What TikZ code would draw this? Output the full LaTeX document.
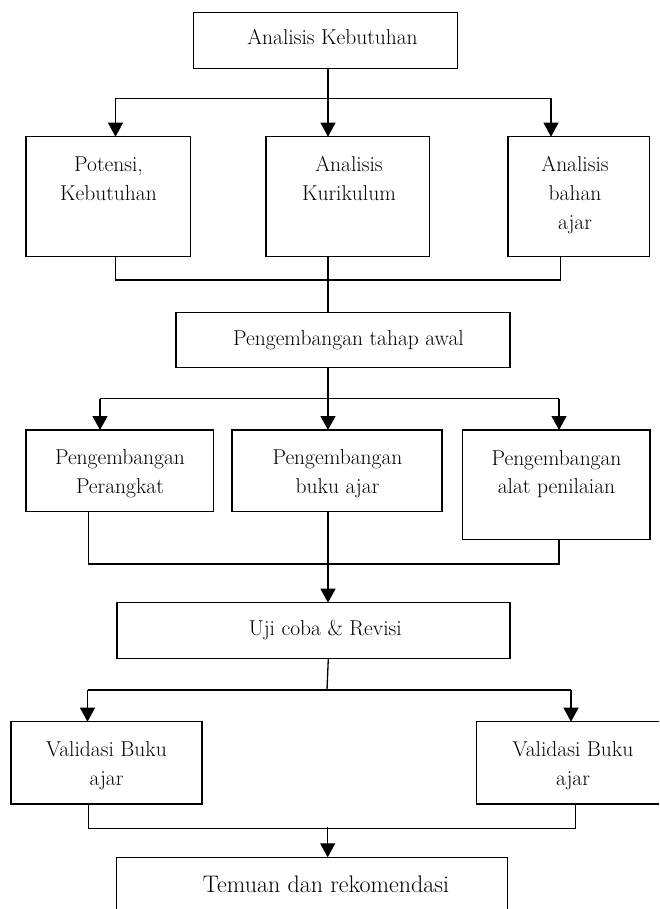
\documentclass[tikz,border=0pt]{standalone}
\usepackage{fontspec}
\usetikzlibrary{arrows.meta}
\newcommand{\mystack}[1]{\vtop{\halign{\hfil##\hfil\cr#1\crcr}}}
\tikzset{
  box/.style={draw, line width=1.3pt, inner sep=0pt, outer sep=0pt},
  conn/.style={line width=1.3pt},
  arr/.style={line width=1.3pt, -{Triangle[length=14pt,width=15pt]}},
  lbl/.style={anchor=base, inner sep=0pt, font=\fontsize{21.5}{28.7}\selectfont},
  biglbl/.style={anchor=base, inner sep=0pt, font=\fontsize{24}{30}\selectfont},
}
\begin{document}
\begin{tikzpicture}[x=1pt, y=-1pt]
\clip (0,0) rectangle (659,909);
\fill[white] (0,0) rectangle (659,909);

% boxes
\node[box, minimum width=264pt, minimum height=56pt] (T0) at (325.5,40.5) {};
\node[box, minimum width=164.7pt, minimum height=120pt] (b1) at (108.35,196.7) {};
\node[box, minimum width=163.5pt, minimum height=120pt] (b2) at (347.75,196.7) {};
\node[box, minimum width=141.5pt, minimum height=120pt] (b3) at (578.75,196.7) {};
\node[box, minimum width=334pt, minimum height=55.4pt] (P0) at (343,340) {};
\node[box, minimum width=187.5pt, minimum height=81.7pt] (A) at (119.75,470.85) {};
\node[box, minimum width=210pt, minimum height=81.7pt] (B) at (337,470.85) {};
\node[box, minimum width=187.5pt, minimum height=109.5pt] (C) at (556.25,484.75) {};
\node[box, minimum width=393pt, minimum height=55.8pt] (U) at (313.5,630.6) {};
\node[box, minimum width=191pt, minimum height=82.3pt] (VL) at (106.5,762.85) {};
\node[box, minimum width=193.7pt, minimum height=82.3pt] (VR) at (573.15,762.85) {};
\node[box, minimum width=390.6pt, minimum height=65.4pt] (TM) at (312,890) {};

% texts
\node[lbl] (t0) at (332.5,45) {Analisis Kebutuhan};
\node[lbl] (t1) at (108.5,171.7) {\mystack{Potensi,\cr Kebutuhan}};
\node[lbl] (t2) at (349,171.7) {\mystack{Analisis\cr Kurikulum}};
\node[lbl] (t3) at (575,171.7) {\mystack{Analisis\cr bahan\cr ajar}};
\node[lbl] (tP) at (348.5,345.5) {Pengembangan tahap awal};
\node[lbl] (tA) at (120,464.3) {\mystack{Pengembangan\cr Perangkat}};
\node[lbl] (tB) at (337.5,464.3) {\mystack{Pengembangan\cr buku ajar}};
\node[lbl] (tC) at (556.5,465) {\mystack{Pengembangan\cr alat penilaian}};
\node[lbl] (tU) at (325.3,635.7) {Uji coba \& Revisi};
\node[lbl] (tVL) at (106.5,756.5) {\mystack{Validasi Buku\cr ajar}};
\node[lbl] (tVR) at (573,756.5) {\mystack{Validasi Buku\cr ajar}};
\node[biglbl] (tTM) at (326,892.7) {Temuan dan rekomendasi};

% junction coordinates
\coordinate (j1) at (328,98.5);
\coordinate (j1l) at (115.5,98.5);
\coordinate (j1r) at (551,98.5);
\coordinate (k1l) at (115.5,280);
\coordinate (k1r) at (560.5,280);
\coordinate (j2) at (328,398.5);
\coordinate (j2l) at (100,398.5);
\coordinate (j2r) at (559,398.5);
\coordinate (k2l) at (88.3,564);
\coordinate (k2r) at (559,564);
\coordinate (j3) at (327,690);
\coordinate (j3l) at (87.5,690);
\coordinate (j3r) at (571,690);
\coordinate (k3l) at (88.3,828.5);
\coordinate (k3r) at (575.7,828.5);
\coordinate (k3m) at (327.7,826.7);

% level 1
\draw[conn] (T0.south -| j1) -- (j1);
\draw[conn] (j1l) -- (j1r);
\draw[arr] (j1l) -- (b1.north -| j1l);
\draw[arr] (j1) -- (b2.north -| j1);
\draw[arr] (j1r) -- (b3.north -| j1r);
\draw[conn] (b1.south -| k1l) -- (k1l) -- (k1r) -- (b3.south -| k1r);
\draw[conn] (b2.south -| j1) -- (P0.north -| j1);

% level 2
\draw[conn] (P0.south -| j2) -- (j2);
\draw[conn] (j2l) -- (j2r);
\draw[arr] (j2l) -- (A.north -| j2l);
\draw[arr] (j2) -- (B.north -| j2);
\draw[arr] (j2r) -- (C.north -| j2r);
\draw[conn] (A.south -| k2l) -- (k2l) -- (k2r) -- (C.south -| k2r);
\draw[arr] (B.south -| j2) -- (U.north -| j2);

% level 3
\draw[conn] ([xshift=1.3pt]U.south -| j3) -- (j3);
\draw[conn] (j3l) -- (j3r);
\draw[arr] (j3l) -- (VL.north -| j3l);
\draw[arr] (j3r) -- (VR.north -| j3r);
\draw[conn] (VL.south -| k3l) -- (k3l) -- (k3r) -- (VR.south -| k3r);
\draw[arr] (k3m) -- (TM.north -| k3m);
\end{tikzpicture}
\end{document}
